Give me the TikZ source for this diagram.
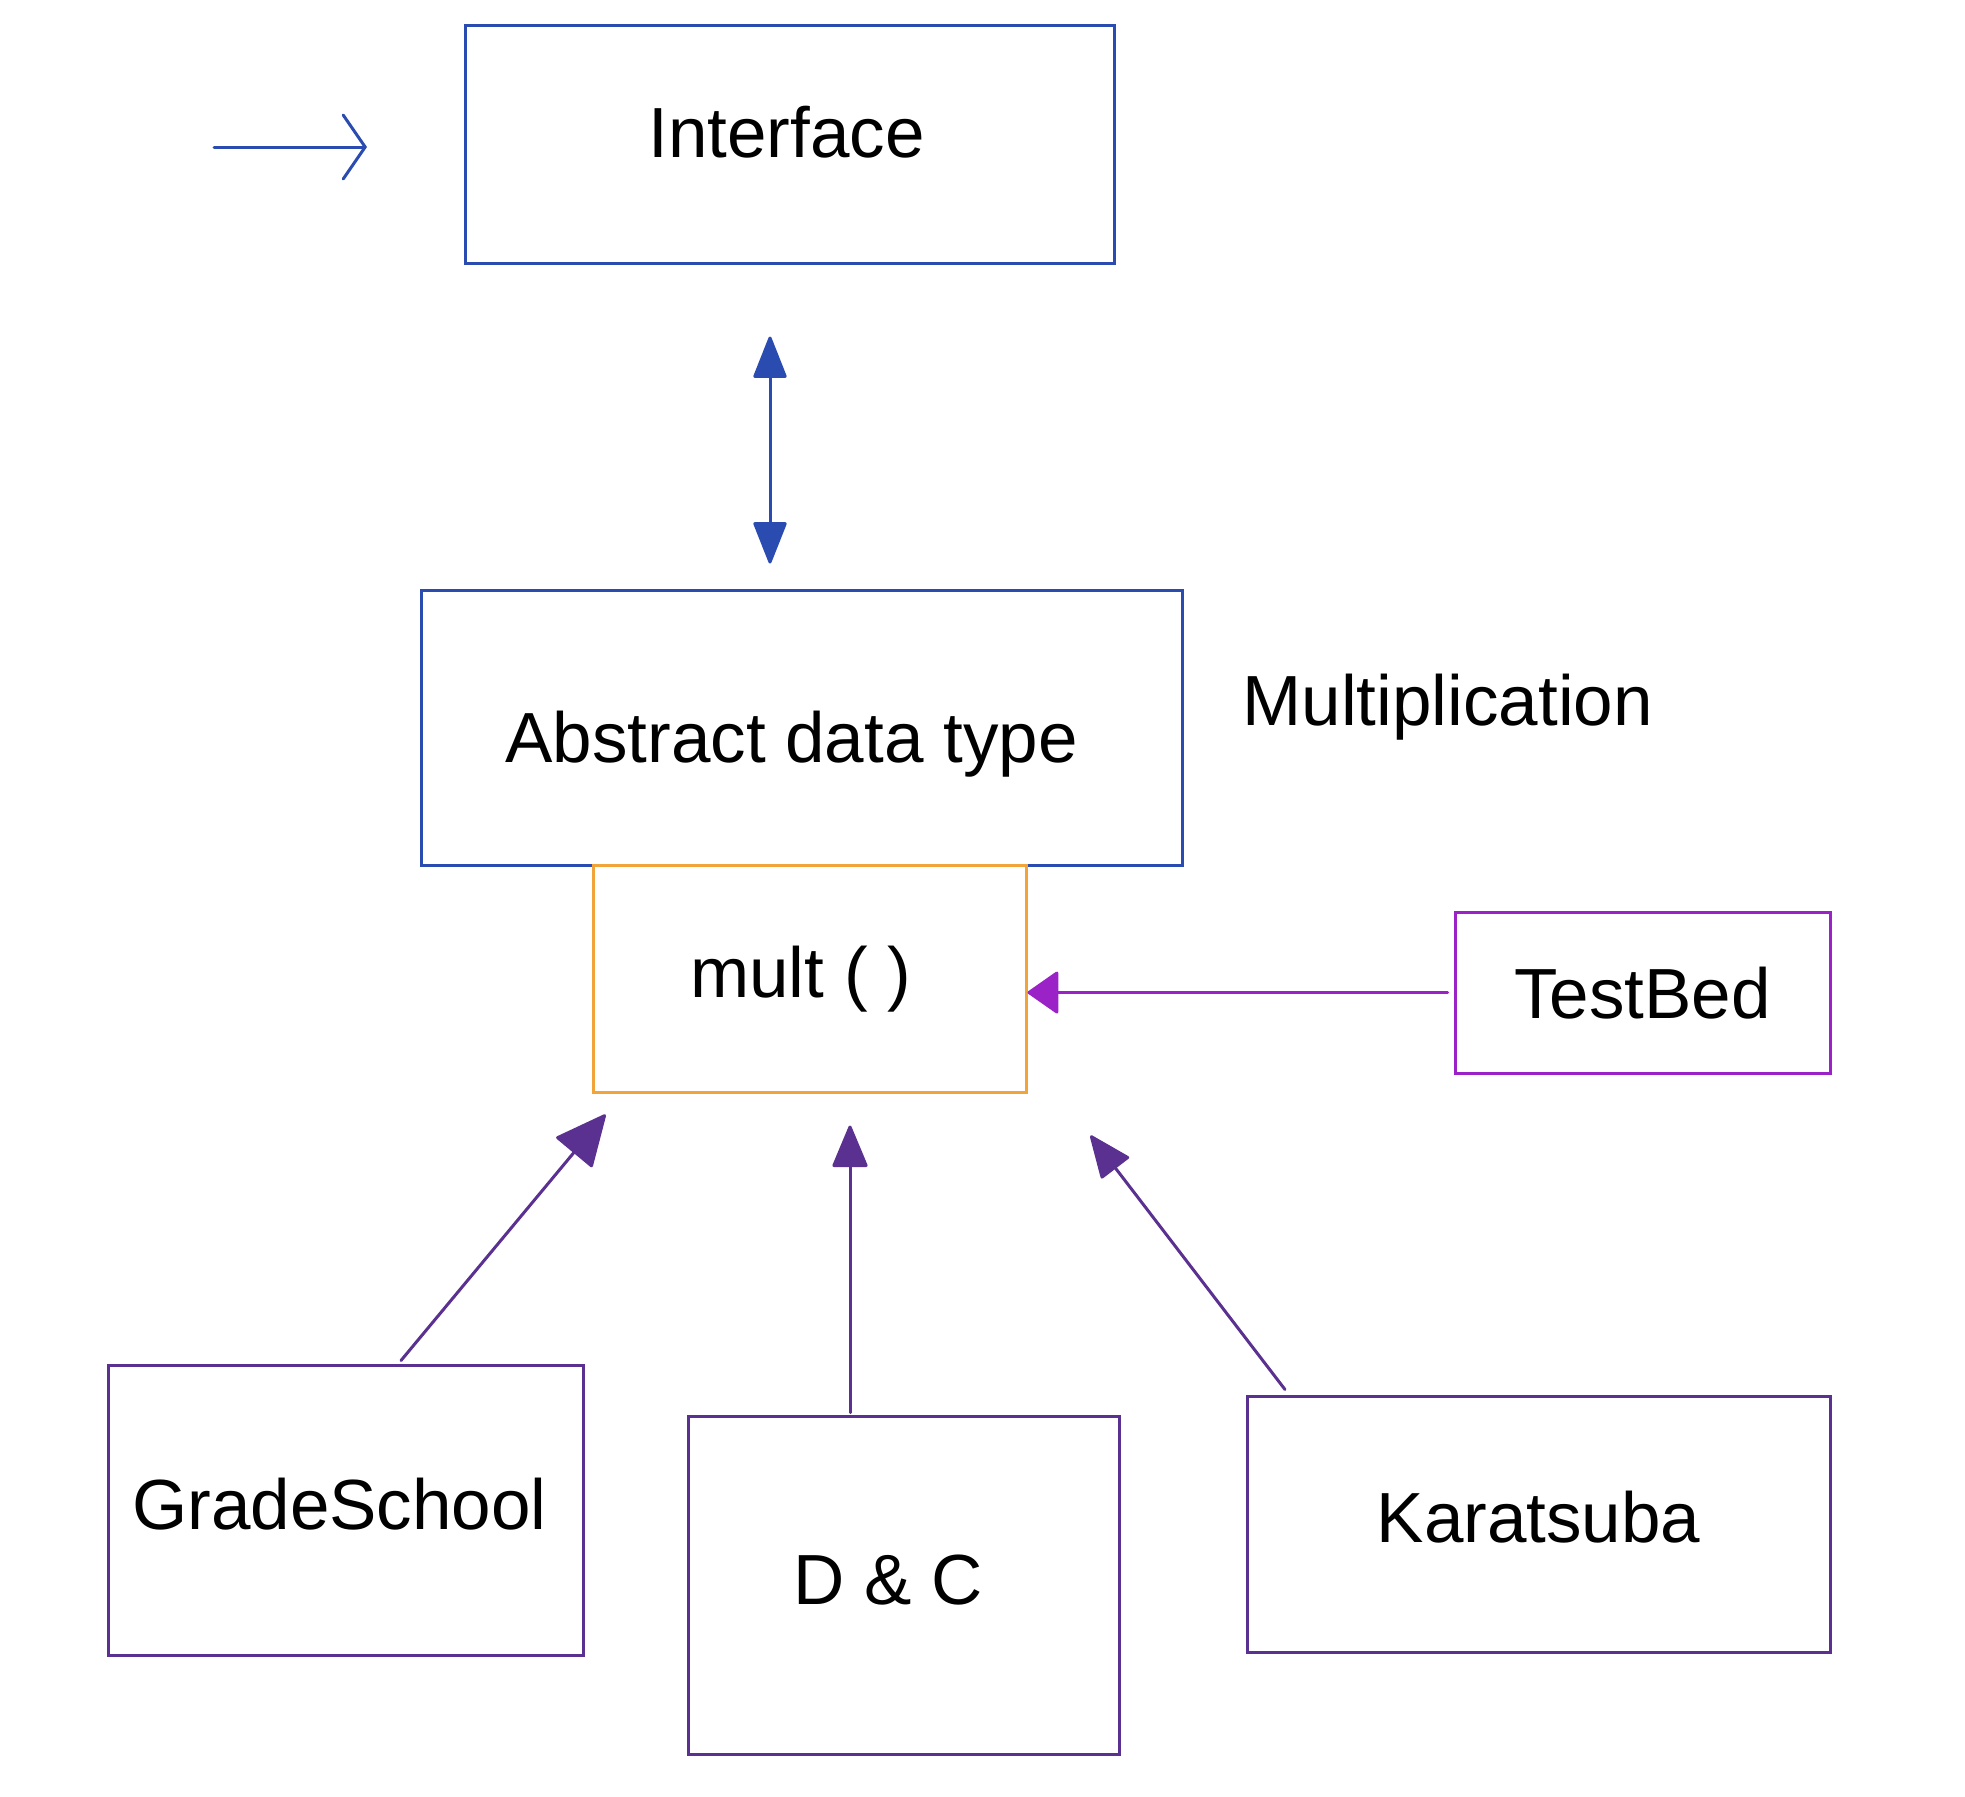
\documentclass[tikz,border=0pt]{standalone}
\usepackage{fontspec}
\setmainfont{Liberation Sans}
\usetikzlibrary{arrows.meta}
\definecolor{cblue}{HTML}{2A4BB0}
\definecolor{corange}{HTML}{F0A43A}
\definecolor{cviolet}{HTML}{9A22C6}
\definecolor{cpurple}{HTML}{5A3090}
\newcommand{\mytxt}[3]{\raisebox{#2}{\hspace*{#1}#3\hspace*{-#1}}}
\tikzset{
  box/.style={draw=#1, line width=1.5pt, rectangle, inner sep=0pt, text=black,
    text height=26pt, text depth=7.5pt, font=\fontsize{35.5}{40}\selectfont},
  lbl/.style={inner sep=0pt, text=black, font=\fontsize{35.5}{40}\selectfont},
  conn/.style={line width=1.5pt, line join=round, line cap=round},
  fhead/.style={-{Triangle[length=22pt,width=18pt,round]}},
}
\begin{document}
\begin{tikzpicture}[x=0.5pt,y=-0.5pt]
\useasboundingbox (0,0) rectangle (1965,1796);
% boxes
\node[box=cblue, minimum width=324.5pt, minimum height=119pt] (iface) at (789.5,144) {\mytxt{-1.5pt}{2.6pt}{Interface}};
\node[box=cblue, minimum width=380.5pt, minimum height=137.5pt] (abs) at (801.5,727.5) {\mytxt{-5pt}{-8pt}{Abstract data type}};
\node[box=corange, minimum width=216.5pt, minimum height=113.5pt] (mult) at (809.5,978.5) {\mytxt{-4.4pt}{0pt}{mult ( )}};
\node[box=cviolet, minimum width=187.5pt, minimum height=80.5pt] (tb) at (1642.5,992.5) {\mytxt{0pt}{-3.7pt}{TestBed}};
\node[box=cpurple, minimum width=237.5pt, minimum height=145pt] (gs) at (345.5,1510) {\mytxt{-3pt}{-0.7pt}{GradeSchool}};
\node[box=cpurple, minimum width=215.5pt, minimum height=169pt] (dc) at (903.5,1585) {\mytxt{-7.5pt}{-0.7pt}{D \& C}};
\node[box=cpurple, minimum width=291.5pt, minimum height=128pt] (kar) at (1538.5,1524) {\mytxt{0pt}{0pt}{Karatsuba}};
\node[lbl, anchor=west] (multlbl) at (1242,707) {Multiplication};
% free arrow
\coordinate (fa1) at (214,147);
\coordinate (fa2) at (367,147);
\draw[conn, cblue, -{Straight Barb[length=11pt,width=32pt,line cap=round]}] (fa1) -- (fa2);
% double arrow
\draw[conn, cblue, {Triangle[length=22pt,width=17pt,round]}-{Triangle[length=22pt,width=17pt,round]}]
  ([xshift=-9.75pt,yshift=-36pt]iface.south) -- ([xshift=-15.75pt,yshift=12.5pt]abs.north);
% testbed arrow
\draw[conn, cviolet, -{Triangle[length=16pt,width=22pt,round]}] ([xshift=-3pt]tb.west) -- (tb.west -| mult.east);
% implementations
\draw[conn, cpurple, -{Triangle[length=26pt,width=24pt,round]}] ([xshift=27.75pt,yshift=1.5pt]gs.north) -- ([xshift=7pt,yshift=-10.5pt]mult.south west);
\draw[conn, cpurple, fhead] ([xshift=-26.75pt,yshift=1pt]dc.north) -- ([xshift=20.25pt,yshift=-16pt]mult.south);
\draw[conn, cpurple, fhead] ([xshift=-126.75pt,yshift=2.5pt]kar.north) -- ([xshift=31.5pt,yshift=-21pt]mult.south east);
\end{tikzpicture}
\end{document}
